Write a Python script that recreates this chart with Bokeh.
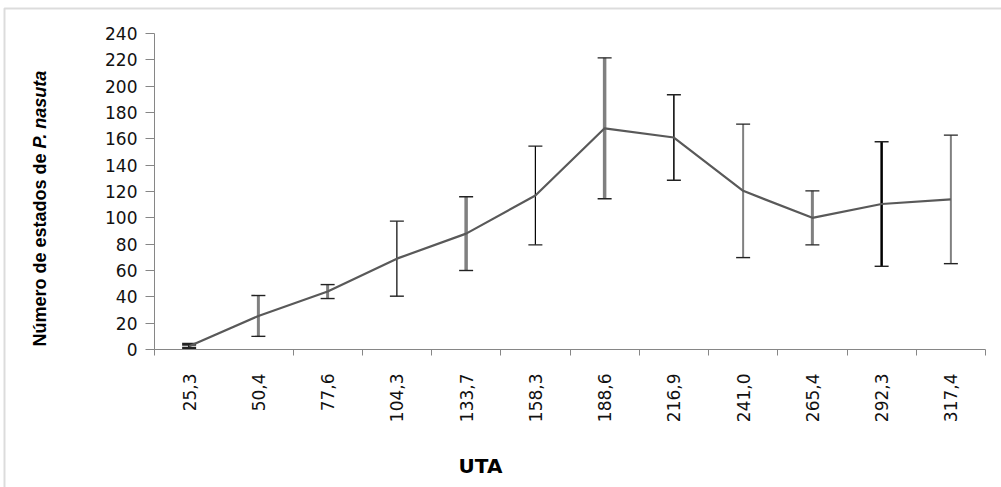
import math

from bokeh.plotting import figure
from bokeh.models import FixedTicker, Label, BoxAnnotation, Range1d
from bokeh.embed import file_html
from bokeh.resources import INLINE

# UTA classes and number of P. nasuta stages (mean and error)
uta_labels = ["25,3", "50,4", "77,6", "104,3", "133,7", "158,3",
              "188,6", "216,9", "241,0", "265,4", "292,3", "317,4"]
mean_states = [2.5, 25.5, 44, 69, 88, 117, 168, 161, 120.5, 100, 110.5, 114]
err_states = [1.5, 15.5, 5.3, 28.5, 28, 37.5, 53.5, 32.5, 50.7, 20.5, 47.3, 48.8]
y_ticks = list(range(0, 241, 20))
y_max = 240

# error-bar styling, one entry per class
bar_colors = ["#000000", "#808080", "#808080", "#000000", "#808080", "#000000",
              "#808080", "#000000", "#808080", "#808080", "#000000", "#808080"]
bar_widths = [2, 3, 3, 1.2, 3.5, 1.2, 3.5, 1.5, 2, 3, 2.5, 2]
cap_widths = [3, 1.4, 1.4, 1.4, 1.4, 1.4, 1.4, 1.4, 1.4, 1.4, 1.4, 1.4]

n = len(uta_labels)
positions = [i + 0.5 for i in range(n)]
lower = [m - e for m, e in zip(mean_states, err_states)]
upper = [m + e for m, e in zip(mean_states, err_states)]

AXIS_GRAY = "#868686"
W, H = 1001, 487
# plotting area inside the page (pixels): left, right, top, bottom
PL, PR, PT, PB = 154, 985, 33, 349

# the frame covers the whole page; ranges are padded so that the
# axes sit at the plotting-area edges
kx = (PR - PL) / n
ky = (PB - PT) / y_max
x_range = Range1d(-PL / kx, n + (W - PR) / kx)
y_range = Range1d(-(H - PB) / ky, y_max + PT / ky)

p = figure(width=W, height=H, output_backend="svg", toolbar_location=None,
           x_range=x_range, y_range=y_range, min_border=0)
p.outline_line_color = None
p.background_fill_color = "white"
p.border_fill_color = "white"
p.xgrid.visible = False
p.ygrid.visible = False

# x axis: labels at class centres, short ticks between classes
xa = p.xaxis[0]
xa.fixed_location = 0
xa.bounds = (0, n)
xa.ticker = FixedTicker(ticks=positions,
                        minor_ticks=[0] + list(range(2, n + 1)))
xa.major_label_overrides = {pos: lab for pos, lab in zip(positions, uta_labels)}
xa.major_label_orientation = math.pi / 2
xa.major_tick_line_color = None
xa.major_tick_out = 0
xa.major_tick_in = 0
xa.minor_tick_line_color = AXIS_GRAY
xa.minor_tick_out = 6
xa.minor_tick_in = 0
xa.major_label_standoff = 18
xa.axis_line_color = AXIS_GRAY
xa.major_label_text_font = "DejaVu Sans"
xa.major_label_text_font_size = "17px"
xa.major_label_text_color = "#111111"

# y axis
ya = p.yaxis[0]
ya.fixed_location = 0
ya.bounds = (0, y_max)
ya.ticker = FixedTicker(ticks=y_ticks, minor_ticks=[])
ya.major_tick_out = 9
ya.major_tick_in = 0
ya.major_tick_line_color = AXIS_GRAY
ya.axis_line_color = AXIS_GRAY
ya.major_label_standoff = 8
ya.major_label_text_font = "DejaVu Sans"
ya.major_label_text_font_size = "17px"
ya.major_label_text_color = "#111111"

# error bars
p.segment(x0=positions, y0=lower, x1=positions, y1=upper,
          line_color=bar_colors, line_width=bar_widths)
p.scatter(x=positions, y=lower, marker="dash", size=14,
          line_color="#222222", line_width=cap_widths)
p.scatter(x=positions, y=upper, marker="dash", size=14,
          line_color="#222222", line_width=cap_widths)

# mean line
p.line(positions, mean_states, line_color="#595959", line_width=2.2)

# axis titles (screen pixels, origin at the bottom-left of the page)
p.add_layout(Label(x=39, y=H - 346, x_units="screen", y_units="screen",
                   text="Número de estados de", angle=math.pi / 2,
                   text_align="left", text_baseline="middle",
                   text_font="Liberation Sans", text_font_style="bold",
                   text_font_size="18px", text_color="black"))
p.add_layout(Label(x=39, y=H - 148, x_units="screen", y_units="screen",
                   text="P. nasuta", angle=math.pi / 2,
                   text_align="left", text_baseline="middle",
                   text_font="Liberation Sans", text_font_style="bold italic",
                   text_font_size="18px", text_color="black"))
p.add_layout(Label(x=480, y=H - 465, x_units="screen", y_units="screen",
                   text="UTA", text_align="center", text_baseline="middle",
                   text_font="DejaVu Sans", text_font_style="bold",
                   text_font_size="20px", text_color="black"))

# chart-area frame (top and left edges visible)
p.add_layout(BoxAnnotation(left=4, right=W + 50, top=H - 8, bottom=-50,
                           left_units="screen", right_units="screen",
                           top_units="screen", bottom_units="screen",
                           fill_color=None, line_color="#8c8c8c",
                           line_width=2))

open("out.html", "w").write(file_html(p, INLINE))
